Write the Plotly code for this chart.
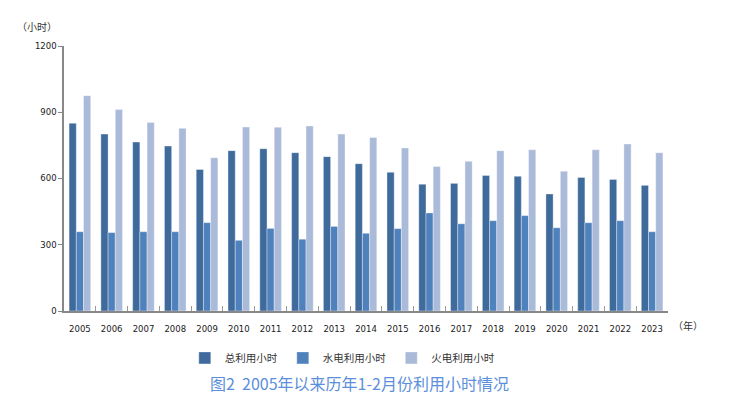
import plotly.graph_objects as go

years = [str(y) for y in range(2005, 2024)]
total_hours = [850, 801, 765, 747, 641, 726, 735, 717, 699, 667, 628, 574, 578, 614, 610, 530, 605, 596, 569]
hydro_hours = [359, 355, 359, 359, 400, 320, 374, 325, 383, 352, 373, 444, 395, 409, 432, 377, 400, 409, 359]
thermal_hours = [975, 912, 854, 827, 694, 833, 832, 838, 801, 786, 738, 654, 678, 726, 730, 633, 730, 756, 717]

series_names = ["总利用小时", "水电利用小时", "火电利用小时"]
colors = ["#3F6A9C", "#4F81BD", "#AABAD9"]
y_ticks = [0, 300, 600, 900, 1200]

CJK = "Noto Sans CJK SC"

fig = go.Figure()
for name, vals, c in zip(series_names, [total_hours, hydro_hours, thermal_hours], colors):
    fig.add_trace(go.Bar(
        x=years, y=vals, name=name,
        marker=dict(color=c, line=dict(color="rgba(255,255,255,0.6)", width=0.6)),
    ))

# page body adds an 8px offset, so the figure is sized to fit the window
fig.update_layout(
    width=737, height=389,
    barmode="group", bargap=0.32, bargroupgap=0,
    plot_bgcolor="white", paper_bgcolor="white",
    margin=dict(l=56, r=77, t=38, b=86, autoexpand=False),
    font=dict(family=CJK, size=10, color="#333333"),
    showlegend=True,
    legend=dict(orientation="h", x=0.2, y=-0.177, xanchor="left", yanchor="middle",
                font=dict(family=CJK, size=10.5, color="#333333"),
                itemwidth=30, tracegroupgap=0, traceorder="normal"),
    xaxis=dict(
        showline=True, linecolor="#888888", linewidth=1.5,
        ticks="inside", tickson="boundaries", ticklen=5, tickcolor="#999999",
        tickangle=0, automargin=False, ticklabelstandoff=9,
        tickfont=dict(family="DejaVu Sans", size=8.5, color="#1a1a1a"),
        showgrid=False,
    ),
    yaxis=dict(
        range=[0, 1200], tickvals=y_ticks, automargin=False,
        showline=True, linecolor="#888888", linewidth=1.5,
        ticks="outside", ticklen=4, tickcolor="#888888",
        tickfont=dict(family="DejaVu Sans", size=8.5, color="#1a1a1a"),
        showgrid=False, zeroline=False,
    ),
    annotations=[
        dict(text="（小时）", xref="paper", yref="paper", x=-0.045, y=1.075,
             xanchor="center", yanchor="middle", showarrow=False,
             font=dict(family=CJK, size=10, color="#333333")),
        dict(text="（年）", xref="paper", yref="paper", x=1.033, y=-0.053,
             xanchor="center", yanchor="middle", showarrow=False,
             font=dict(family=CJK, size=10, color="#333333")),
        dict(text="图2  2005年以来历年1-2月份利用小时情况", xref="paper", yref="paper",
             x=0.49, y=-0.272, xanchor="center", yanchor="middle", showarrow=False,
             font=dict(family=CJK, size=16, color="#5B8FDB")),
    ],
)

fig.write_html("out.html")
